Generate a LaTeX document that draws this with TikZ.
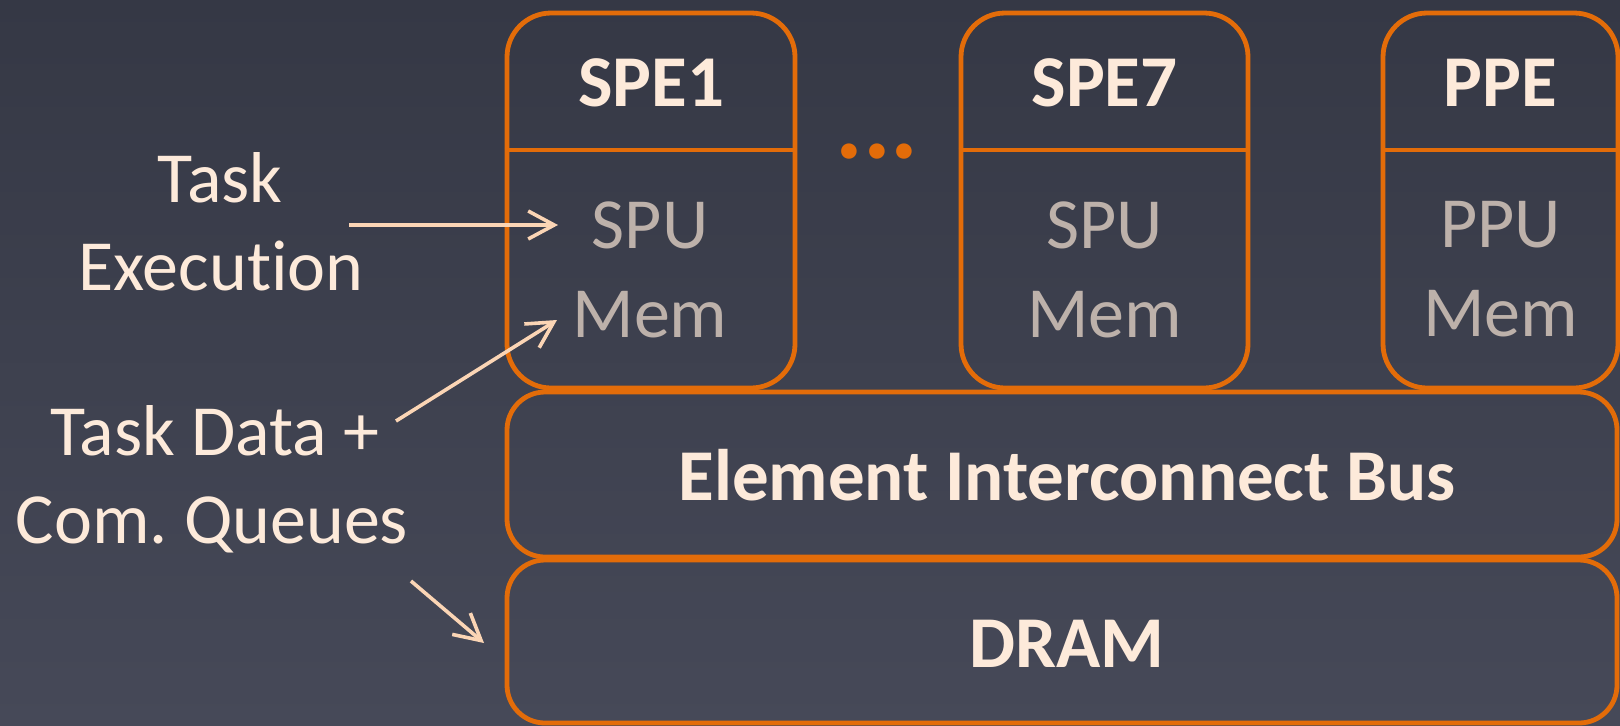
\documentclass[tikz,border=0pt]{standalone}
\usepackage{fontspec}
\setmainfont{Carlito}[Ligatures=NoCommon]
\usetikzlibrary{arrows.meta}
\definecolor{bgtop}{HTML}{353845}
\definecolor{bgbot}{HTML}{464958}
\definecolor{orng}{HTML}{E36C09}
\definecolor{cream}{HTML}{FDEADA}
\definecolor{greytxt}{HTML}{BDB1AA}
\definecolor{arrowc}{HTML}{FBD5B5}
\tikzset{
  unitbox/.style={draw=orng, line width=2.4pt, rectangle, rounded corners=22pt, inner sep=0pt},
  barbox/.style={draw=orng, line width=2.4pt, rectangle, rounded corners=19pt, inner sep=0pt, minimum width=555pt},
  headtxt/.style={text=cream, font=\fontsize{36.5}{44}\selectfont\bfseries, inner sep=0pt, anchor=base},
  bodytxt/.style={text=greytxt, font=\fontsize{36}{44}\selectfont, inner sep=0pt, anchor=base},
  labeltxt/.style={text=cream, font=\fontsize{36}{44}\selectfont, inner sep=0pt, anchor=base},
  divider/.style={draw=orng, line width=2.4pt},
  pointer/.style={draw=arrowc, line width=1.8pt, -{Straight Barb[length=13pt,width=14pt,line width=1.8pt]}},
}
\begin{document}
\frenchspacing
\begin{tikzpicture}[x=0.5pt,y=-0.5pt]
\useasboundingbox (0,0) rectangle (1620,725);
\fill[top color=bgtop, bottom color=bgbot] (0,0) rectangle (1620,725);
\coordinate (divy) at (0,150);
% unit boxes
\node[unitbox, minimum width=144pt, minimum height=187.5pt] (spe1) at (651,200.5) {};
\node[unitbox, minimum width=143.5pt, minimum height=187.5pt] (spe7) at (1104.5,200.5) {};
\node[unitbox, minimum width=117.5pt, minimum height=187.5pt] (ppe) at (1500.5,200.5) {};
\draw[divider] (spe1.west |- divy) -- (spe1.east |- divy);
\draw[divider] (spe7.west |- divy) -- (spe7.east |- divy);
\draw[divider] (ppe.west |- divy) -- (ppe.east |- divy);
% bars
\node[barbox, minimum height=82.5pt] (bus) at (1062,474.5) {};
\node[barbox, minimum height=81.5pt] (dram) at (1062,641.5) {};
% titles
\node[headtxt] (t1) at (651,106) {SPE1};
\node[headtxt] (t7) at (1104.5,106) {SPE7};
\node[headtxt] (tp) at (1500.5,106) {PPE};
\node[bodytxt] (spu1) at (650,248) {SPU};
\node[bodytxt] (mem1) at (650,337) {Mem};
\node[bodytxt] (spu7) at (1104.5,248) {SPU};
\node[bodytxt] (mem7) at (1104.5,337) {Mem};
\node[bodytxt] (ppu) at (1500.5,247) {PPU};
\node[bodytxt] (memp) at (1500.5,336) {Mem};
\node[headtxt] (bustxt) at (1067,500) {Element Interconnect Bus};
\node[headtxt] (dramtxt) at (1067,667) {DRAM};
\node[text=orng, font=\fontsize{52}{60}\selectfont\bfseries, inner sep=0pt, anchor=base] (dots) at (877,158) {...};
% labels
\node[labeltxt] (l1a) at (220,202) {Task};
\node[labeltxt] (l1b) at (221,290) {Execution};
\node[labeltxt] (l2a) at (215,455) {Task Data +};
\node[labeltxt] (l2b) at (212,543) {Com. Queues};
% arrows
\coordinate (a1s) at (349,225);
\coordinate (a1e) at (558,225);
\coordinate (a2s) at (396,421);
\coordinate (a2e) at (557,320);
\coordinate (a3s) at (411,581);
\coordinate (a3e) at (484,643);
\draw[pointer] (a1s) -- (a1e);
\draw[pointer] (a2s) -- (a2e);
\draw[pointer] (a3s) -- (a3e);
\end{tikzpicture}
\end{document}
